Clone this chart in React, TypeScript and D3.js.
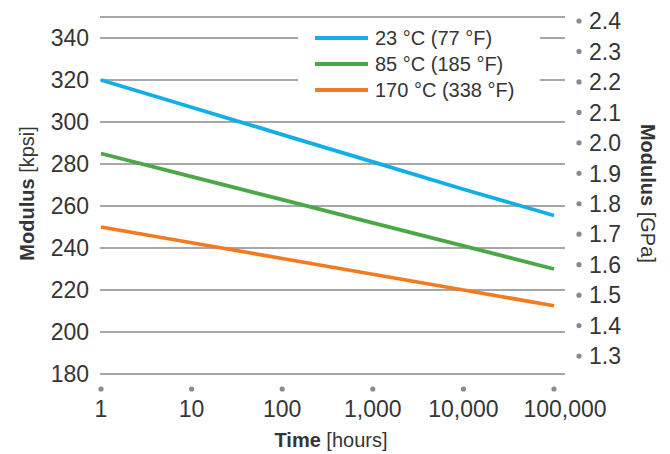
import React from "react";
import * as d3 from "d3";

const timeTicks = [1, 10, 100, 1000, 10000, 100000];
const timeLabels = ["1", "10", "100", "1,000", "10,000", "100,000"];
const kpsiTicks = [180, 200, 220, 240, 260, 280, 300, 320, 340];
const gpaTicks = [1.3, 1.4, 1.5, 1.6, 1.7, 1.8, 1.9, 2.0, 2.1, 2.2, 2.3, 2.4];
const seriesNames = ["23 °C (77 °F)", "85 °C (185 °F)", "170 °C (338 °F)"];
const seriesColors = ["#12aee8", "#4aa846", "#f37a20"];
const hours = [1, 10, 100, 1000, 10000, 100000];
const blue = [320, 307, 294, 281, 268, 255.5];
const green = [285, 274, 263, 252, 241, 230];
const orange = [250, 242.5, 235, 227.5, 220, 212.5];
const seriesValues = [blue, green, orange];

const KPSI_PER_GPA = 145.038;
const FONT = "'Liberation Sans', Arial, Helvetica, sans-serif";

export default function App() {
  const W = 670, H = 454;
  const x = d3.scaleLog().domain([1, 100000]).range([101, 554]);
  const y = d3.scaleLinear().domain([180, 350]).range([374, 17]);
  const yR = d3.scaleLinear().domain([180 / KPSI_PER_GPA, 350 / KPSI_PER_GPA]).range([374, 17]);
  const gridX0 = 100, gridX1 = 565;
  const line = d3.line<[number, number]>().x(d => x(d[0])).y(d => y(d[1]));
  const textColor = "#353535";
  const gridColor = "#8a8a8e";
  const dotColor = "#8a8a8e";

  return (
    <svg width={W} height={H} style={{ position: "absolute", left: 0, top: 0, background: "#fff" }} fontFamily={FONT}>
      {[...kpsiTicks, 350].map(v => (
        <line key={"g" + v} x1={gridX0} x2={gridX1} y1={y(v)} y2={y(v)} stroke={gridColor} strokeWidth={1.4} />
      ))}
      {kpsiTicks.map(v => (
        <text key={"l" + v} x={89} y={y(v)} dy="0.36em" textAnchor="end" fontSize={23} fill={textColor}>{v}</text>
      ))}
      {gpaTicks.map(v => (
        <g key={"r" + v}>
          <circle cx={579} cy={yR(v)} r={2.6} fill={dotColor} />
          <text x={589} y={yR(v)} dy="0.36em" fontSize={23} fill={textColor}>{v.toFixed(1)}</text>
        </g>
      ))}
      {timeTicks.map((t, i) => (
        <g key={"x" + t}>
          <circle cx={x(t)} cy={389} r={2.6} fill={dotColor} />
          <text x={x(t)} dx={i === timeTicks.length - 1 ? 11 : 0} y={417} textAnchor="middle" fontSize={23} fill={textColor}>{timeLabels[i]}</text>
        </g>
      ))}
      <rect x={298} y={25} width={242} height={75} fill="#fff" />
      {seriesValues.map((vals, i) => (
        <path key={"s" + i} d={line(hours.map((h, j) => [h, vals[j]]) as [number, number][]) || ""} fill="none" stroke={seriesColors[i]} strokeWidth={3.8} />
      ))}
      {seriesNames.map((n, i) => (
        <g key={"lg" + i}>
          <line x1={315} x2={368} y1={38 + i * 26} y2={38 + i * 26} stroke={seriesColors[i]} strokeWidth={3.8} />
          <text x={375} y={38 + i * 26} dy="0.36em" fontSize={20} fill={textColor}>{n}</text>
        </g>
      ))}
      <text x={331} y={447} textAnchor="middle" fontSize={20} fill={textColor}>
        <tspan fontWeight="bold">Time</tspan><tspan> [hours]</tspan>
      </text>
      <text transform={`translate(34,${y(266)}) rotate(-90)`} textAnchor="middle" fontSize={20} fill={textColor}>
        <tspan fontWeight="bold">Modulus</tspan><tspan> [kpsi]</tspan>
      </text>
      <text transform={`translate(641,${y(266)}) rotate(90)`} textAnchor="middle" fontSize={20} fill={textColor}>
        <tspan fontWeight="bold">Modulus</tspan><tspan> [GPa]</tspan>
      </text>
    </svg>
  );
}
